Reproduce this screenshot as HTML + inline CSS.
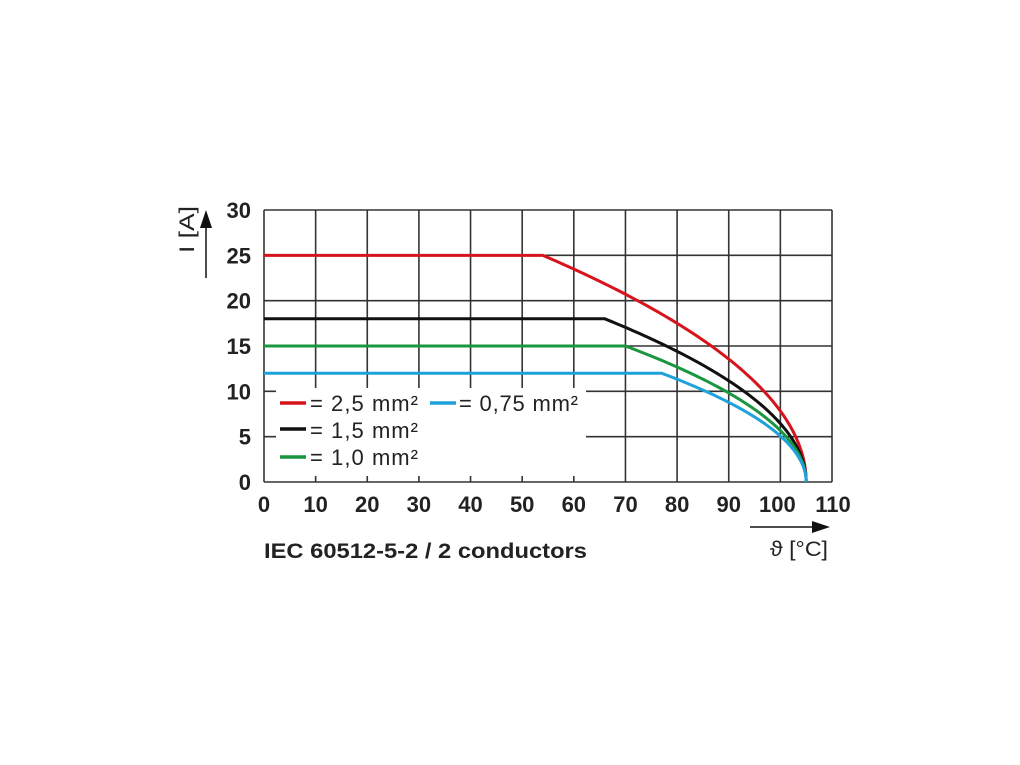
<!DOCTYPE html>
<html><head><style>body{margin:0;background:#fff}svg{display:block}</style></head><body>
<svg id="s" width="1020" height="765" xmlns="http://www.w3.org/2000/svg" font-family="Liberation Sans, sans-serif">
<g id="grid" stroke="#333" stroke-width="1.6"></g>
<g id="curves" fill="none" stroke-width="3"></g>
<rect x="276" y="388" width="310" height="88" fill="#fff"/>
<g stroke-width="3.5">
<line x1="280" y1="403" x2="306" y2="403" stroke="#d7141c"/>
<line x1="430" y1="403" x2="456" y2="403" stroke="#1ea2dc"/>
<line x1="280" y1="429" x2="306" y2="429" stroke="#111"/>
<line x1="280" y1="457" x2="306" y2="457" stroke="#1a9640"/>
</g>
<g font-size="22" fill="#222" lengthAdjust="spacingAndGlyphs">
<text x="310" y="411" textLength="108">= 2,5 mm²</text>
<text x="459" y="411" textLength="119">= 0,75 mm²</text>
<text x="310" y="438" textLength="108">= 1,5 mm²</text>
<text x="310" y="465" textLength="108">= 1,0 mm²</text>
</g>
<g font-size="22" font-weight="bold" fill="#222" text-anchor="end" id="ylab"></g>
<g font-size="22" font-weight="bold" fill="#222" text-anchor="middle" id="xlab"></g>
<text x="264" y="558" font-size="21" font-weight="bold" fill="#222" textLength="323" lengthAdjust="spacingAndGlyphs">IEC 60512-5-2 / 2 conductors</text>
<line x1="750" y1="527" x2="818" y2="527" stroke="#111" stroke-width="1.5"/>
<polygon points="830,527 812,521 812,533" fill="#111"/>
<text x="770" y="556" font-size="21" fill="#222" textLength="58" lengthAdjust="spacingAndGlyphs">ϑ [°C]</text>
<line x1="206" y1="278" x2="206" y2="222" stroke="#111" stroke-width="1.5"/>
<polygon points="206,210 200,228 212,228" fill="#111"/>
<text transform="translate(194,253) rotate(-90)" font-size="21" fill="#222" textLength="47" lengthAdjust="spacingAndGlyphs">I [A]</text>
</svg>
<script>
var X=function(t){return 264+t*568/110},Y=function(v){return 482-v*272/30};
var g=document.getElementById('grid'),h='';
for(var i=0;i<=11;i++){h+='<line x1="'+X(i*10)+'" y1="210" x2="'+X(i*10)+'" y2="482"/>';}
for(var j=0;j<=6;j++){h+='<line x1="264" y1="'+Y(j*5)+'" x2="832" y2="'+Y(j*5)+'"/>';}
g.innerHTML=h;
var yl='';for(j=0;j<=6;j++)yl+='<text x="251" y="'+(Y(j*5)+8)+'">'+(j*5)+'</text>';
document.getElementById('ylab').innerHTML=yl;
var xl='';for(i=0;i<=11;i++){var x=X(i*10);if(i==10)x-=3;if(i==11)x+=1;xl+='<text x="'+x+'" y="512">'+(i*10)+'</text>';}
document.getElementById('xlab').innerHTML=xl;
var S=[[25,54,'#d7141c'],[18,66,'#111'],[15,70,'#1a9640'],[12,77,'#1ea2dc']],c='';
S.forEach(function(s){var d='M'+X(0)+','+Y(s[0])+' L'+X(s[1])+','+Y(s[0]);
for(var k=1;k<=80;k++){var t=s[1]+(105-s[1])*(1-Math.pow(1-k/80,1.6));var v=s[0]*Math.sqrt(Math.max(0,(105-t)/(105-s[1])));d+=' L'+X(t).toFixed(2)+','+Y(v).toFixed(2);}
c+='<path d="'+d+'" stroke="'+s[2]+'"/>';});
document.getElementById('curves').innerHTML=c;
</script>
</body></html>
